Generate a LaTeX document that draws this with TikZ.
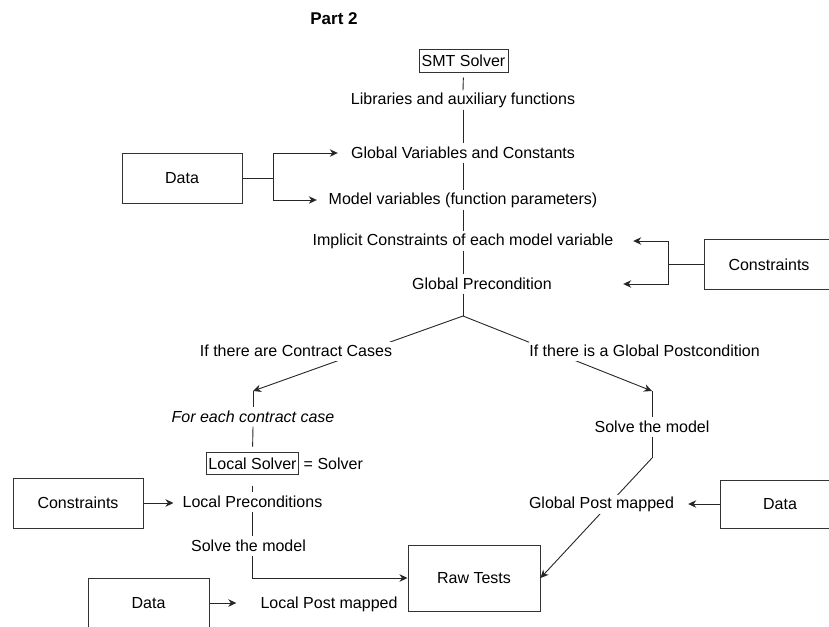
\documentclass[tikz,border=0pt]{standalone}
\usepackage{fontspec}
\setmainfont{Liberation Sans}
\usetikzlibrary{arrows.meta,calc}
\begin{document}
\begin{tikzpicture}[x=1pt,y=-1pt,
  txt/.style={inner sep=0pt,minimum height=19pt,font=\fontsize{16}{19}\selectfont},
  boxnode/.style={draw=black!80,line width=1pt,inner sep=0pt,font=\fontsize{16}{19}\selectfont},
  link/.style={line width=0.9pt,black!85},
  arr/.style={link,-{Stealth[length=8pt,width=7.5pt,inset=2.5pt]}},
  lbl/.style={txt,fill=white}]
\useasboundingbox (0,0) rectangle (829,626);

% top column
\node[txt,font=\fontsize{17}{20}\selectfont\bfseries] (part) at (334,19) {Part 2};
\node[boxnode,minimum width=89pt,minimum height=22pt] (smt) at (463.5,61) {SMT Solver};
\node[txt] (libs) at (463,100) {Libraries and auxiliary functions};
\node[txt,minimum width=250pt] (gv) at (463,153) {Global Variables and Constants};
\node[txt,minimum width=292pt] (mv) at (463,200) {Model variables (function parameters)};
\node[txt,minimum width=340pt] (impl) at (463,241) {Implicit Constraints of each model variable};
\node[txt,minimum width=282pt] (gp) at (482,284) {Global Precondition};
\coordinate (split) at (463,316);
\node[boxnode,minimum width=120pt,minimum height=50pt] (d1) at (182,178) {Data};
\node[boxnode,minimum width=130pt,minimum height=50pt] (c1) at (769,264.5) {Constraints};

% left branch
\coordinate (lc) at (253,391);
\coordinate (rc1) at (652,391);
\node[txt,font=\fontsize{16}{19}\selectfont\itshape] (fe) at (253,417) {For each contract case};
\node[boxnode,inner xsep=1.5pt,minimum height=22pt] (ls) at (252.5,463.5) {Local Solver};
\node[txt,anchor=west] (eqs) at ([xshift=5pt]ls.east) {= Solver};
\node[txt] (lp) at (252.5,502) {Local Preconditions};
\node[txt] (sm1) at (248.5,546) {Solve the model};
\node[boxnode,minimum width=130pt,minimum height=50pt] (c2) at (78,503) {Constraints};
\node[boxnode,minimum width=121pt,minimum height=50pt] (d2) at (148.5,603) {Data};
\node[txt] (lpm) at (329,604) {Local Post mapped};
\node[boxnode,minimum width=132pt,minimum height=66pt] (raw) at (474,578) {Raw Tests};

% right branch
\node[txt] (sm2) at (652,427) {Solve the model};
\coordinate (rc2) at (652,458);
\node[boxnode,minimum width=120pt,minimum height=48pt] (d3) at (780,504) {Data};

% connectors
\draw[link,shorten <=5pt] (smt.south) -- (libs.north);
\draw[link] (libs.south) -- (gv.north);
\draw[link] (gv.south) -- (mv.north);
\draw[link] (mv.south) -- (impl.north);
\draw[link] (impl.south) -- (split |- gp.north);
\draw[link] (split |- gp.south) -- (split);
\draw[arr] (d1.east) -- ++(31,0) |- (gv.west);
\draw[arr] (d1.east) -- ++(31,0) |- (mv.west);
\draw[arr] (c1.west) -- ++(-35,0) |- (impl.east);
\draw[arr] (c1.west) -- ++(-35,0) |- (gp.east);
\draw[arr] (split) -- (lc);
\draw[arr] (split) -- (rc1);
\draw[link] (lc) -- (fe.north);
\draw[link] (rc1) -- (sm2.north);
\draw[link,shorten >=5.5pt] (fe.south) -- (ls.north);
\draw[link,shorten <=10.5pt] (ls.south) -- (lp.north);
\draw[link] (lp.south) -- (sm1.north -| lp.south);
\draw[arr] (lp.south |- sm1.south) |- (raw.west);
\draw[arr,shorten >=9pt] (c2.east) -- (c2.east -| lp.west);
\draw[arr,shorten >=24pt] (d2.east) -- (d2.east -| lpm.west);
\draw[link] (sm2.south) -- (rc2);
\draw[arr] (rc2) -- (raw.east);

% edge labels
\node[lbl] (cc) at (296,351) {If there are Contract Cases};
\node[lbl] (gpc) at (644.5,351) {If there is a Global Postcondition};
\node[lbl] (gpm) at (601.5,504) {Global Post mapped};
\draw[arr,shorten >=14pt] (d3.west) -- (gpm.east);
\end{tikzpicture}
\end{document}
